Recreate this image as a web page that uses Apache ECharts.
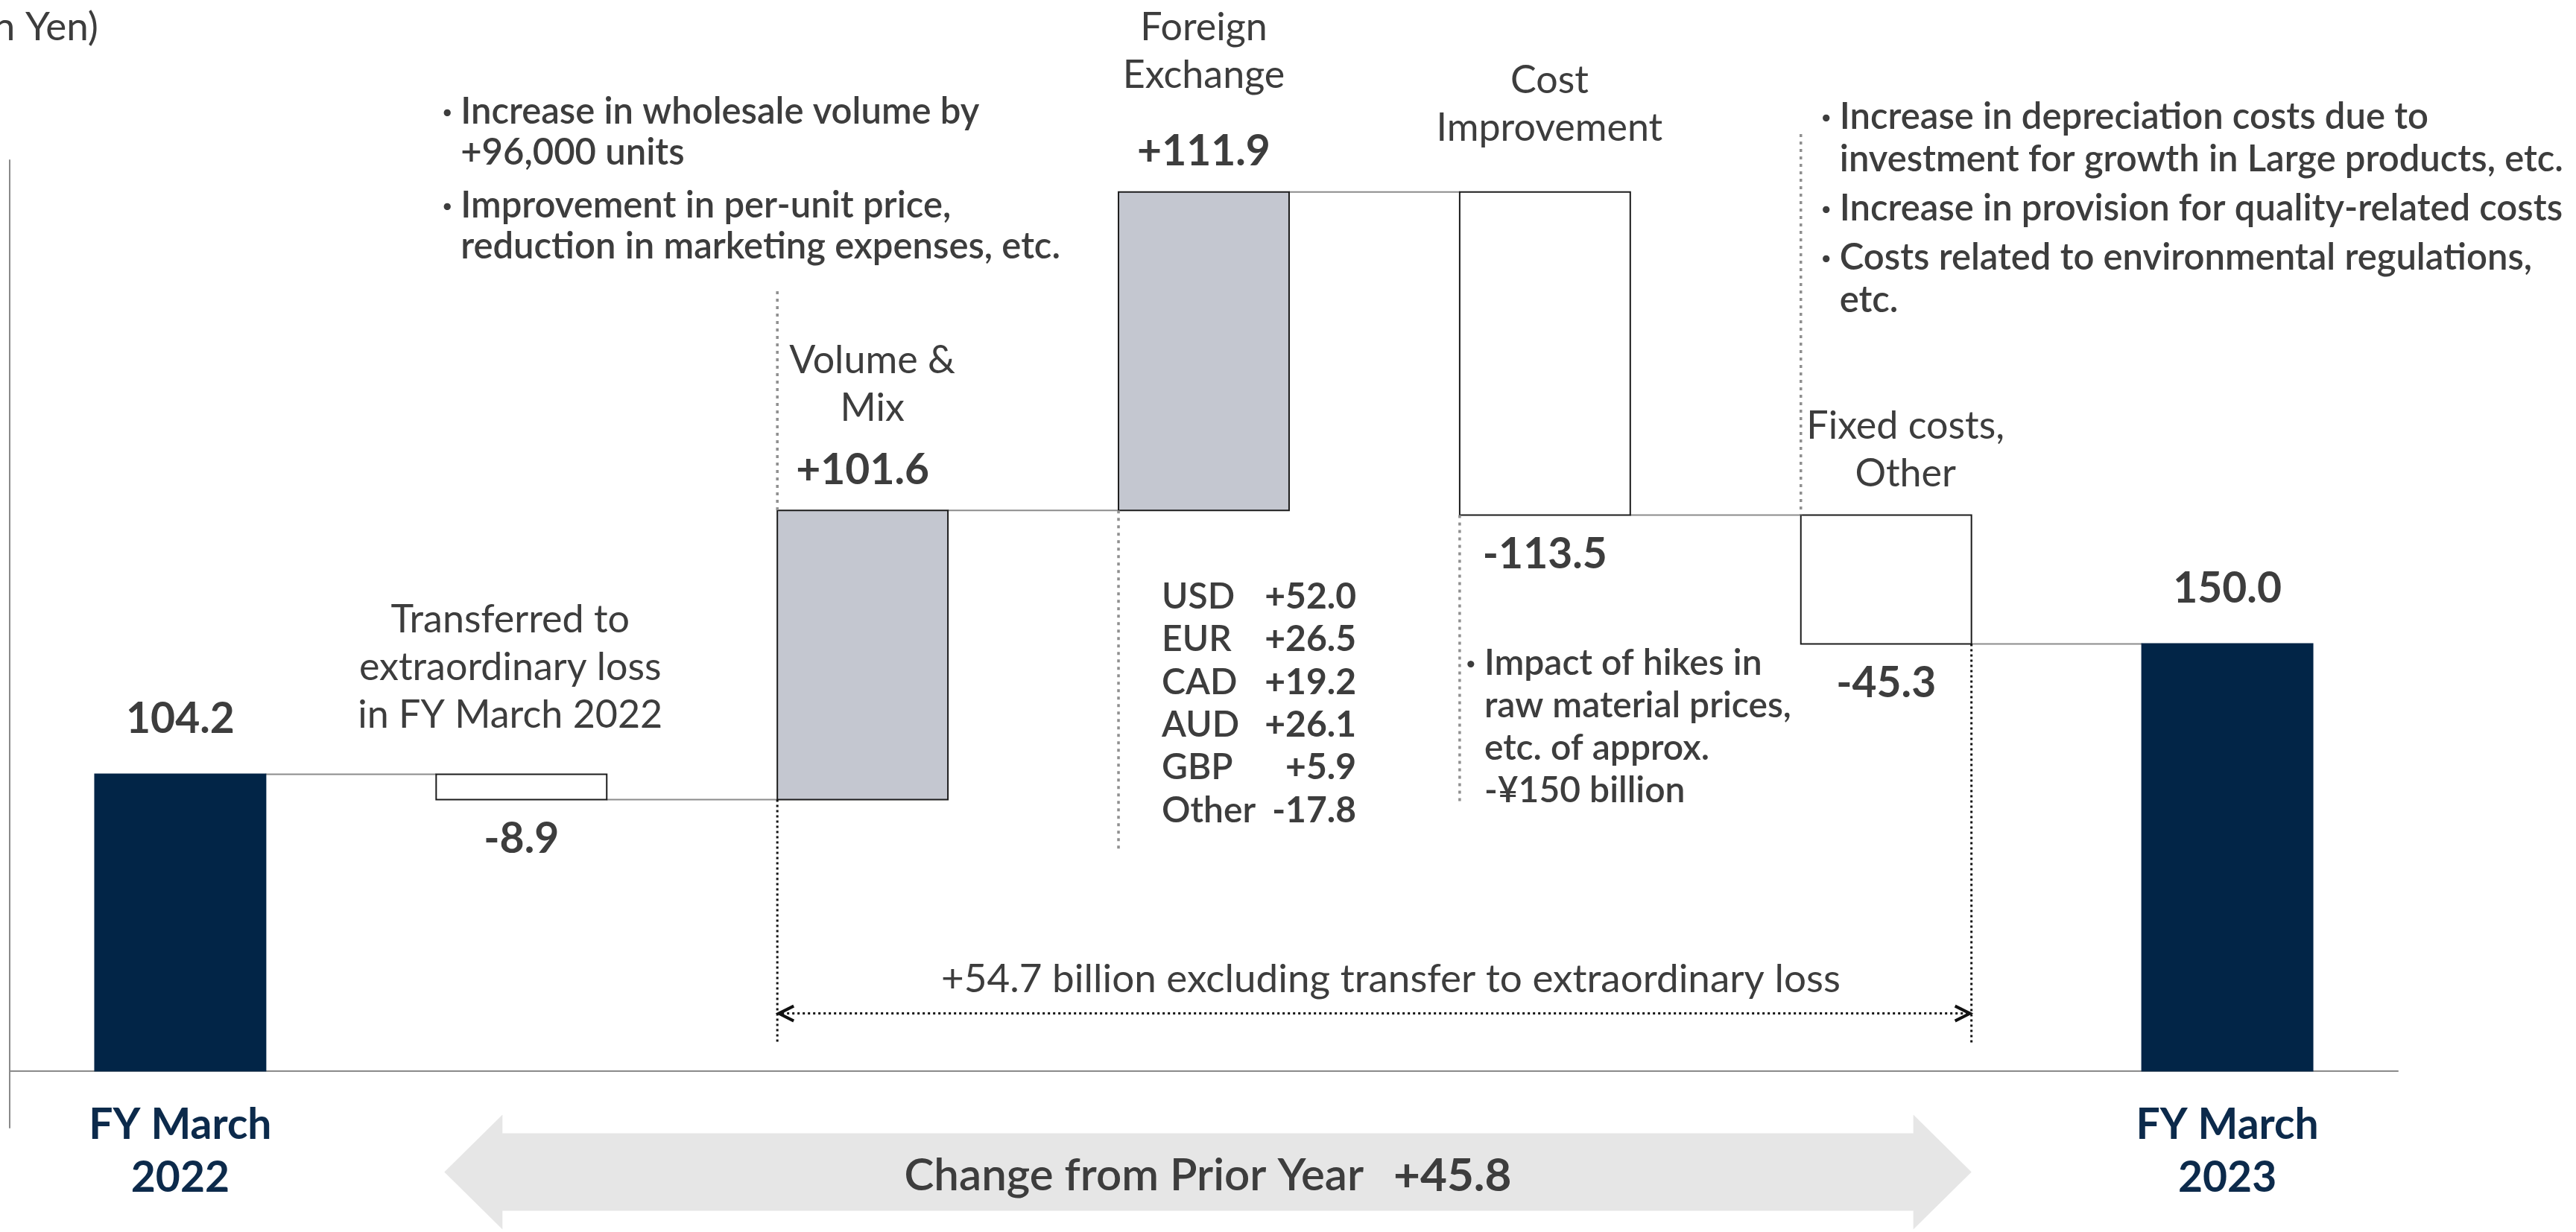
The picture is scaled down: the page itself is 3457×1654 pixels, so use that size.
<!DOCTYPE html>
<html>
<head>
<meta charset="utf-8">
<script src="https://cdn.jsdelivr.net/npm/echarts@6/dist/echarts.min.js"></script>
<style>
  html, body { margin: 0; padding: 0; background: #ffffff; }
  #chart { width: 3457px; height: 1654px; }
</style>
</head>
<body>
<div id="chart"></div>
<script>
// Operating income bridge, FY March 2022 -> FY March 2023 (billion yen)
const categories = [
  'FY March\n2022',
  'Transferred to\nextraordinary loss\nin FY March 2022',
  'Volume &\nMix',
  'Foreign\nExchange',
  'Cost\nImprovement',
  'Fixed costs,\nOther',
  'FY March\n2023'
];
const values = [104.2, -8.9, 101.6, 111.9, -113.5, -45.3, 150.0];
const isTotal = [true, false, false, false, false, false, true];

// Foreign exchange breakdown
const fxCurrencies = ['USD', 'EUR', 'CAD', 'AUD', 'GBP', 'Other'];
const fxValues = [52.0, 26.5, 19.2, 26.1, 5.9, -17.8];

const excludingTransfer = 54.7;
const changeFromPrior = 45.8;
const unitLabel = '(Billion Yen)';

const notesVolume = [
  'Increase in wholesale volume by\n+96,000 units',
  'Improvement in per-unit price,\nreduction in marketing expenses, etc.'
];
const notesCost = ['Impact of hikes in\nraw material prices,\netc. of approx.\n-\u00a5150 billion'];
const notesFixed = [
  'Increase in depreciation costs due to\ninvestment for growth in Large products, etc.',
  'Increase in provision for quality-related costs',
  'Costs related to environmental regulations,\netc.'
];

// ---- styling ----
const FONT = 'Lato, "Noto Sans", sans-serif';
const TEXT = '#3d3d3d';
const NAVY = '#022547';
const NAVY_TEXT = '#0c2a4b';
const STEP_UP = '#c4c7d0';
const EDGE = '#1c1c1c';
const CONNECT = '#8c8c8c';
const DOT_GRAY = '#8f8f8f';

// name label placement per category: [dx, gap between bar top and bottom of the name block]
const nameLayout = [null, [-15, 47], [13, 105], [0, 125], [6, 54], [26, 23], null];

// running start/end of every bar
const steps = [];
let run = 0;
values.forEach((v, i) => {
  if (isTotal[i]) { steps.push([i, 0, v]); run = v; }
  else { steps.push([i, run, run + v]); run += v; }
});

const fmtValue = (v, total) => total ? v.toFixed(1) : (v > 0 ? '+' : '') + v.toFixed(1);

function textStyle(o) {
  const s = Object.assign({
    fill: TEXT, fontFamily: FONT, fontSize: 52, fontWeight: 'normal',
    align: 'center', verticalAlign: 'middle'
  }, o);
  s.textAlign = s.align;
  s.textVerticalAlign = s.verticalAlign;
  return s;
}

function renderItem(params, api) {
  const i = api.value(0), a = api.value(1), b = api.value(2);
  const p0 = api.coord([i, a]);
  const p1 = api.coord([i, b]);
  const catW = api.size([1, 0])[0];
  const w = catW * 0.5;
  const top = Math.min(p0[1], p1[1]);
  const bottom = Math.max(p0[1], p1[1]);
  const total = isTotal[i];
  const up = b >= a;
  const children = [];

  // connector to the next bar
  if (i < values.length - 1) {
    children.push({
      type: 'line', silent: true,
      shape: { x1: p0[0] + w / 2, y1: p1[1], x2: p0[0] + catW - w / 2, y2: p1[1] },
      style: { stroke: CONNECT, lineWidth: 2 }
    });
  }

  children.push({
    type: 'rect',
    shape: { x: p0[0] - w / 2, y: top, width: w, height: bottom - top },
    style: {
      fill: total ? NAVY : (up ? STEP_UP : '#ffffff'),
      stroke: total ? NAVY : EDGE,
      lineWidth: 2
    }
  });

  // value label
  const v = values[i];
  const valY = total ? top - 74 : (up ? top - 54 : bottom + 53);
  children.push({
    type: 'text', silent: true,
    style: textStyle({ text: fmtValue(v, total), x: p0[0], y: valY, fontSize: 57, fontWeight: 'bold' })
  });

  // step name label
  if (!total) {
    const [dx, gap] = nameLayout[i];
    children.push({
      type: 'text', silent: true,
      style: textStyle({
        text: categories[i], x: p0[0] + dx, y: top - gap,
        verticalAlign: 'bottom', lineHeight: 64
      })
    });
  }
  return { type: 'group', children };
}

const chart = echarts.init(document.getElementById('chart'));
chart.setOption({
  animation: false,
  backgroundColor: '#ffffff',
  grid: { left: 13, right: 239, top: 215, bottom: 140, containLabel: false, outerBoundsMode: 'none' },
  xAxis: {
    type: 'category',
    data: categories,
    axisLine: { onZero: true, lineStyle: { color: '#8a8a8a', width: 2 } },
    axisTick: { show: false },
    splitLine: { show: false },
    axisLabel: {
      interval: 0, margin: -39,
      formatter: (val, idx) => isTotal[idx] ? val : '',
      color: NAVY_TEXT, fontFamily: FONT, fontWeight: 'bold', fontSize: 57, lineHeight: 71
    }
  },
  yAxis: {
    type: 'value', min: -20, max: 320,
    axisLine: { show: true, lineStyle: { color: '#8a8a8a', width: 2 } },
    axisTick: { show: false },
    axisLabel: { show: false },
    splitLine: { show: false }
  },
  series: [{
    type: 'custom',
    renderItem,
    data: steps,
    encode: { x: 0, y: [1, 2] },
    clip: false,
    z: 3
  }]
});

// ---- annotations placed from the axis scales ----
const px = (i, v) => chart.convertToPixel({ gridIndex: 0 }, [i, v]);
const catW = px(1, 0)[0] - px(0, 0)[0];
const half = catW * 0.25;
const leftOf = i => px(i, 0)[0] - half;
const rightOf = i => px(i, 0)[0] + half;
const yv = v => px(0, v)[1];
const y0 = yv(0);
const endOf = steps.map(s => [Math.max(s[1], s[2]), Math.min(s[1], s[2])]); // [high, low]

const g = [];
const text = (t, x, y, o) => g.push({ type: 'text', silent: true, z: 10, style: textStyle(Object.assign({ text: t, x, y }, o || {})) });
const line = (x1, y1, x2, y2, style) => g.push({ type: 'line', silent: true, z: 5, shape: { x1, y1, x2, y2 }, style });
const grayDots = { stroke: DOT_GRAY, lineWidth: 3.5, lineDash: [4, 6] };
const blackDots = { stroke: '#111111', lineWidth: 3, lineDash: [3, 4] };

// unit
text(unitLabel, 132, 37, { align: 'right', fontSize: 53 });

// bullet notes
function bullets(list, xText, yFirst, lh, gap, size) {
  let y = yFirst;
  list.forEach(note => {
    text('\u00b7', xText - 18, y, { align: 'center', fontSize: size, fontWeight: 'bold' });
    text(note, xText, y - lh / 2, { align: 'left', verticalAlign: 'top', lineHeight: lh, fontSize: size, fontWeight: 600 });
    y += note.split('\n').length * lh + gap;
  });
}
bullets(notesVolume, leftOf(2) - 425, 150, 55, 16, 49);
bullets(notesFixed, leftOf(5) + 52, 157, 57, 9, 49);
bullets(notesCost, leftOf(4) + 33, 891, 57, 0, 48);

// foreign exchange breakdown table
fxCurrencies.forEach((c, k) => {
  const y = yv(endOf[3][1]) + 116 + k * 57.4;
  text(c, leftOf(3) + 58, y, { align: 'left', fontSize: 48, fontWeight: 600 });
  text((fxValues[k] > 0 ? '+' : '') + fxValues[k].toFixed(1), leftOf(3) + 319, y, { align: 'right', fontSize: 48, fontWeight: 'bold' });
});

// guide lines
line(leftOf(2), 391, leftOf(2), yv(endOf[2][0]), grayDots);
line(leftOf(2), yv(endOf[2][1]), leftOf(2), y0 - 35, blackDots);
line(leftOf(3), yv(endOf[3][1]), leftOf(3), 1140, grayDots);
line(leftOf(4), yv(endOf[4][1]), leftOf(4), 1080, grayDots);
line(leftOf(5), 180, leftOf(5), yv(endOf[5][0]), grayDots);
line(rightOf(5), yv(endOf[5][1]), rightOf(5), y0 - 35, blackDots);

// span excluding the extraordinary-loss transfer
const ay = y0 - 77;
const ax1 = leftOf(2) + 2, ax2 = rightOf(5) - 2;
line(ax1 + 4, ay, ax2 - 4, ay, blackDots);
g.push({ type: 'polyline', silent: true, z: 6, shape: { points: [[ax1 + 20, ay - 10], [ax1, ay], [ax1 + 20, ay + 10]] }, style: { stroke: '#111', lineWidth: 4, fill: null } });
g.push({ type: 'polyline', silent: true, z: 6, shape: { points: [[ax2 - 20, ay - 10], [ax2, ay], [ax2 - 20, ay + 10]] }, style: { stroke: '#111', lineWidth: 4, fill: null } });
text('+' + excludingTransfer.toFixed(1) + ' billion excluding transfer to extraordinary loss', (ax1 + ax2) / 2 + 22, y0 - 123, { fontSize: 53 });

// change from prior year band
const by = y0 + 136;
const bx1 = leftOf(1) + 11, bx2 = rightOf(5);
const head = 78, hh = 77, sh = 52;
g.push({
  type: 'polygon', silent: true, z: 1,
  shape: { points: [
    [bx1, by], [bx1 + head, by - hh], [bx1 + head, by - sh], [bx2 - head, by - sh], [bx2 - head, by - hh],
    [bx2, by], [bx2 - head, by + hh], [bx2 - head, by + sh], [bx1 + head, by + sh], [bx1 + head, by + hh]
  ] },
  style: { fill: '#e6e6e6' }
});
g.push({
  type: 'text', silent: true, z: 10,
  style: textStyle({
    text: '{a|Change from Prior Year}   {b|+' + changeFromPrior.toFixed(1) + '}',
    x: (bx1 + bx2) / 2, y: by + 5,
    rich: {
      a: { fontFamily: FONT, fontSize: 60, fontWeight: 600, fill: TEXT, color: TEXT },
      b: { fontFamily: FONT, fontSize: 62, fontWeight: 'bold', fill: TEXT, color: TEXT }
    }
  })
});

chart.setOption({ graphic: { elements: g } });
</script>
</body>
</html>
